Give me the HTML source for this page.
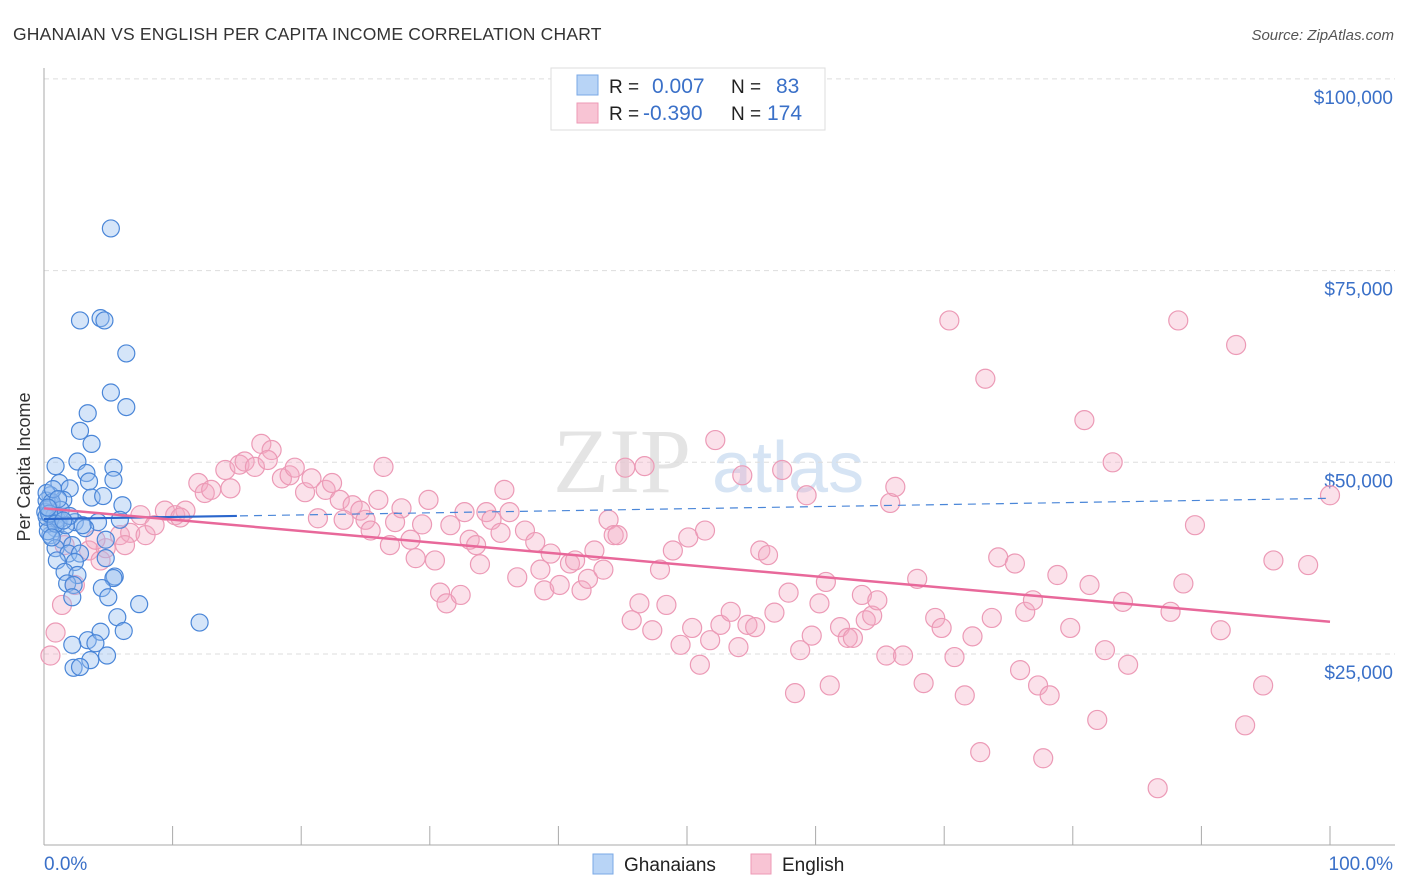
<!DOCTYPE html>
<html><head><meta charset="utf-8"><style>
body{margin:0;background:#fff;font-family:"Liberation Sans",sans-serif}
#c{position:absolute;left:0;top:0}
</style></head><body>
<svg id="c" width="1406" height="892" xmlns="http://www.w3.org/2000/svg">
<text x="13" y="40" font-size="17.5" fill="#333" letter-spacing="0.2">GHANAIAN VS ENGLISH PER CAPITA INCOME CORRELATION CHART</text>
<text x="1394" y="40" font-size="15" fill="#555" font-style="italic" text-anchor="end">Source: ZipAtlas.com</text>
<g>
<text x="553" y="492" font-size="92" font-family="Liberation Serif,serif" fill="#e4e4e4">ZIP</text>
<text x="712" y="492" font-size="72" fill="#d6e4f4">atlas</text>
</g>
<g id="grid"></g>
<g id="axes"></g>
<g id="pts"></g>
<g id="trend"></g>
<text x="18" y="455" font-size="18" fill="#333" transform="rotate(-90 30 455)" text-anchor="middle">Per Capita Income</text>
<g>
<rect x="551" y="68" width="274" height="62" fill="#fff" stroke="#ddd"/>
<rect x="577" y="75" width="21" height="20" fill="#b8d4f6" stroke="#7aa8e6"/>
<rect x="577" y="103" width="21" height="20" fill="#f8c4d4" stroke="#ee9ab6"/>
<text x="609" y="93" font-size="19" fill="#222">R = </text><text x="652" y="93" font-size="21" fill="#3a70c8">0.007</text>
<text x="731" y="93" font-size="19" fill="#222">N = </text><text x="776" y="93" font-size="21" fill="#3a70c8">83</text>
<text x="609" y="120" font-size="19" fill="#222">R = </text><text x="643" y="120" font-size="21" fill="#3a70c8">-0.390</text>
<text x="731" y="120" font-size="19" fill="#222">N = </text><text x="767" y="120" font-size="21" fill="#3a70c8">174</text>
</g>
<g>
<rect x="593" y="854" width="20" height="20" fill="#b8d4f6" stroke="#7aa8e6"/>
<text x="624" y="871" font-size="19" fill="#222">Ghanaians</text>
<rect x="751" y="854" width="20" height="20" fill="#f8c4d4" stroke="#ee9ab6"/>
<text x="782" y="871" font-size="19" fill="#222">English</text>
</g>
<text x="44" y="870" font-size="19" fill="#3a70c8">0.0%</text>
<text x="1393" y="870" font-size="19" fill="#3a70c8" text-anchor="end">100.0%</text>
</svg>
<script>
const yTicks=[25000,50000,75000,100000];
const yTickLabels=["$25,000","$50,000","$75,000","$100,000"];
const xTicks=[0,10,20,30,40,50,60,70,80,90,100];
const ghanaX=[5.2,2.8,4.4,4.7,6.4,5.2,6.4,3.4,2.8,3.7,0.9,2.6,5.4,3.3,3.5,5.4,1.2,2.0,3.7,4.6,6.1,0.5,0.6,1.5,0.5,1.2,2.4,4.2,5.9,0.9,3.2,0.5,1.4,4.8,2.2,0.9,1.9,2.8,4.8,1.0,2.4,1.6,2.6,1.8,2.3,5.5,5.4,4.5,2.2,5.0,7.4,5.7,12.1,6.2,3.4,4.4,2.2,4.0,4.9,3.6,2.3,2.8,0.2,0.1,0.3,0.2,0.4,0.8,1.0,0.3,0.6,1.3,0.2,0.7,1.7,0.4,0.9,1.1,0.3,2.0,1.5,0.6,3.0];
const ghanaY=[80.5,68.5,68.8,68.5,64.2,59.1,57.2,56.4,54.1,52.4,49.5,50.1,49.3,48.6,47.5,47.7,47.3,46.6,45.4,45.6,44.4,45.7,44.4,45.1,43.1,42.5,42.2,42.2,42.5,41.4,41.4,40.5,39.9,39.9,39.2,38.8,38.1,38.1,37.5,37.2,37.0,35.7,35.3,34.2,34.0,35.1,34.9,33.6,32.4,32.4,31.5,29.8,29.1,28.0,26.8,27.9,26.2,26.4,24.8,24.2,23.2,23.3,45.0,43.5,42.0,46.0,44.0,43.0,42.6,41.0,44.8,43.8,42.9,46.5,41.8,43.3,42.0,45.2,44.1,43.0,42.4,40.2,41.8];
const engX=[0.5,0.9,1.4,2.4,1.6,3.5,4.4,4.8,4.0,5.9,6.7,7.9,6.3,7.5,8.6,9.4,10.2,11,10.6,12,12.5,13,14.1,14.5,15.2,15.6,16.4,16.9,17.7,17.4,18.5,19.1,19.5,20.3,20.8,21.3,21.9,22.4,23,24,24.6,23.3,25,25.4,26,26.4,26.9,27.3,27.8,28.5,28.9,29.4,29.9,30.4,30.8,31.3,31.6,32.4,32.7,33.1,33.6,33.9,34.4,34.8,35.5,35.8,36.2,36.8,37.4,38.2,38.9,38.6,39.4,40.1,40.9,41.3,41.8,42.3,42.8,43.5,43.9,44.3,44.6,45.2,45.7,46.3,46.7,47.3,47.9,48.4,48.9,49.5,50.1,50.4,51,51.4,51.8,52.2,52.6,53.4,54,54.3,54.7,55.3,55.7,56.3,56.8,57.4,57.9,58.4,58.8,59.3,59.7,60.3,60.8,61.1,61.9,62.5,62.9,63.6,63.9,64.4,64.8,65.5,65.8,66.2,66.8,67.9,68.4,69.3,69.8,70.4,70.8,71.6,72.2,72.8,73.2,73.7,74.2,75.5,75.9,76.3,76.9,77.3,77.7,78.2,78.8,79.8,80.9,81.3,81.9,82.5,83.1,83.9,84.3,87.6,88.2,88.6,89.5,91.5,92.7,93.4,94.8,95.6,98.3,100,86.6];
const engY=[24.8,27.8,31.4,34.0,39.2,38.5,37.2,38.8,39.9,40.5,40.8,40.5,39.2,43.1,41.8,43.7,43.1,43.7,42.8,47.3,46.0,46.4,49.0,46.6,49.7,50.1,49.4,52.4,51.6,50.3,47.9,48.3,49.3,46.1,47.9,42.7,46.4,47.3,45.1,44.4,43.7,42.5,42.5,41.1,45.1,49.4,39.2,42.2,44.0,39.9,37.5,41.9,45.1,37.2,33.0,31.6,41.8,32.7,43.5,39.9,39.2,36.7,43.5,42.5,40.8,46.4,43.5,35.0,41.1,39.6,33.3,36.0,38.1,34.0,36.8,37.2,33.3,34.8,38.5,36.0,42.5,40.5,40.5,49.3,29.4,31.6,49.5,28.1,36.0,31.4,38.5,26.2,40.2,28.4,23.6,41.1,26.8,52.9,28.8,30.5,25.9,48.3,28.8,28.5,38.5,37.9,30.4,49.0,33.0,19.9,25.5,45.7,27.4,31.6,34.4,20.9,28.5,27.1,27.1,32.7,29.4,30.0,32.0,24.8,44.7,46.8,24.8,34.8,21.2,29.7,28.4,68.5,24.6,19.6,27.3,12.2,60.9,29.7,37.6,36.8,22.9,30.5,32.0,20.9,11.4,19.6,35.3,28.4,55.5,34.0,16.4,25.5,50.0,31.8,23.6,30.5,68.5,34.2,41.8,28.1,65.3,15.7,20.9,37.2,36.6,45.7,7.5];
const ghanaTrend=[42.6,45.3];
const engTrend=[44.0,29.2];
const NS="http://www.w3.org/2000/svg";
const X0=44,X1=1330,Y0=845.7,PXK=191.7/25;
const sx=v=>X0+(X1-X0)*v/100;
const sy=k=>Y0-k*PXK;
function mk(tag,attrs,parent){const e=document.createElementNS(NS,tag);for(const k in attrs)e.setAttribute(k,attrs[k]);parent.appendChild(e);return e;}
const grid=document.getElementById('grid'),axes=document.getElementById('axes'),pts=document.getElementById('pts'),tr=document.getElementById('trend');
yTicks.forEach((t,i)=>{
  const l=mk('line',{x1:44,x2:1395,y1:sy(t/1000),y2:sy(t/1000),stroke:'#ddd','stroke-dasharray':'5,4'},grid);
  
  
  const tx=mk('text',{x:1393,y:sy(t/1000)+25,'font-size':19,fill:'#3a70c8','text-anchor':'end'},axes);
  tx.textContent=yTickLabels[i];
  
  
});
const ax=mk('line',{x1:44,x2:1395,y1:845,y2:845,stroke:'#aaa'},axes);


const ay=mk('line',{x1:44,x2:44,y1:68,y2:845,stroke:'#aaa'},axes);


xTicks.forEach(t=>{
  const l=mk('line',{x1:sx(t),x2:sx(t),y1:826,y2:845,stroke:'#aaa'},axes);
  
  
});
engX.forEach((x,i)=>{
  const c=mk('circle',{cx:sx(x),cy:sy(engY[i]),r:9.5,fill:'rgba(244,170,196,0.35)',stroke:'#ec9ab6','stroke-width':1.2},pts);
  
  
});
ghanaX.forEach((x,i)=>{
  const c=mk('circle',{cx:sx(x),cy:sy(ghanaY[i]),r:8.5,fill:'rgba(150,190,240,0.4)',stroke:'#4a86d8','stroke-width':1.2},pts);
  
  
});
const gy=x=>ghanaTrend[0]+(ghanaTrend[1]-ghanaTrend[0])*x/100;
const l1=mk('line',{x1:sx(0),y1:sy(gy(0)),x2:sx(100),y2:sy(gy(100)),stroke:'#4a86d8','stroke-width':1.2,'stroke-dasharray':'8,6'},tr);


const l2=mk('line',{x1:sx(0),y1:sy(gy(0)),x2:sx(15),y2:sy(gy(15)),stroke:'#2a66cc','stroke-width':2.2},tr);


const l3=mk('line',{x1:sx(0),y1:sy(engTrend[0]),x2:sx(100),y2:sy(engTrend[1]),stroke:'#e8689a','stroke-width':2.5},tr);


</script>
</body></html>
